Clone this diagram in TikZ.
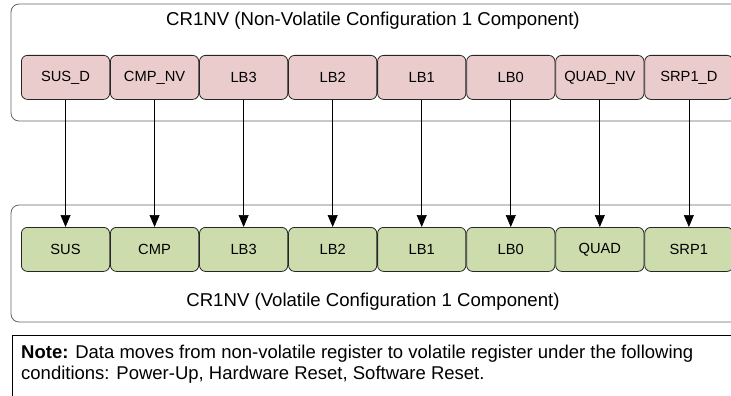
\documentclass[tikz,border=0pt]{standalone}
\usepackage{fontspec}
\setmainfont{Liberation Sans}
\usetikzlibrary{positioning, arrows.meta}
\definecolor{nvpink}{RGB}{234,204,204}
\definecolor{vgreen}{RGB}{205,220,172}
\tikzset{
reg/.style={draw=black!85, rounded corners=6pt, line width=0.8pt, minimum width=88.25pt, minimum height=44pt, inner sep=0pt, font=\fontsize{14.7}{16}\selectfont}, % one register bit
nvreg/.style={reg, fill=nvpink}, % non-volatile bits
vreg/.style={reg, fill=vgreen}, % volatile bits
group/.style={draw=black!60, rounded corners=8pt, line width=0.8pt}, % frame round a row
move/.style={-{Triangle[length=12pt,width=10pt]}, line width=0.7pt}, % copy arrows
title/.style={font=\fontsize{18.6}{21}\selectfont},
}

\begin{document}
\begin{tikzpicture}[x=1pt, y=-1pt]
        \useasboundingbox (0,0) rectangle (731,396);

        % non-volatile row (frames run on past the right edge)
        \draw[group] (11,4) rectangle (740,121);
        \node[title] (nvtitle) at (373,21) {CR1NV (Non-Volatile Configuration 1 Component)};
        \node[nvreg, anchor=north west] (susd) at (21,55) {SUS\_D};
        \node[nvreg, right=0pt of susd] (cmpnv) {CMP\_NV};
        \node[nvreg, right=0pt of cmpnv] (lbnv3) {LB3};
        \node[nvreg, right=0pt of lbnv3] (lbnv2) {LB2};
        \node[nvreg, right=0pt of lbnv2] (lbnv1) {LB1};
        \node[nvreg, right=0pt of lbnv1] (lbnv0) {LB0};
        \node[nvreg, right=0pt of lbnv0] (quadnv) {QUAD\_NV};
        \node[nvreg, right=0pt of quadnv] (srpd) {SRP1\_D};

        % volatile row
        \draw[group] (11,205) rectangle (740,322);
        \node[vreg, anchor=north west] (sus) at (21,227) {SUS};
        \node[vreg, right=0pt of sus] (cmp) {CMP};
        \node[vreg, right=0pt of cmp] (lbv3) {LB3};
        \node[vreg, right=0pt of lbv3] (lbv2) {LB2};
        \node[vreg, right=0pt of lbv2] (lbv1) {LB1};
        \node[vreg, right=0pt of lbv1] (lbv0) {LB0};
        \node[vreg, right=0pt of lbv0] (quad) {QUAD};
        \node[vreg, right=0pt of quad] (srp) {SRP1};
        \node[title] (vtitle) at (373,302) {CR1NV (Volatile Configuration 1 Component)};

        \draw[move] (susd) -- (sus);
        \draw[move] (cmpnv) -- (cmp);
        \draw[move] (lbnv3) -- (lbv3);
        \draw[move] (lbnv2) -- (lbv2);
        \draw[move] (lbnv1) -- (lbv1);
        \draw[move] (lbnv0) -- (lbv0);
        \draw[move] (quadnv) -- (quad);
        \draw[move] (srpd) -- (srp);

        % note below (base is the last line)
        \draw[line width=0.8pt] (12,335) rectangle (740,400);
        \node[anchor=base west, align=left, inner sep=0pt, font=\fontsize{18.5}{21.5}\selectfont] (note) at (21,379.5)
        {\textbf{Note:} Data moves from non-volatile register to volatile register under the following\\
        conditions: Power-Up, Hardware Reset, Software Reset.};
      \end{tikzpicture}
\end{document}
